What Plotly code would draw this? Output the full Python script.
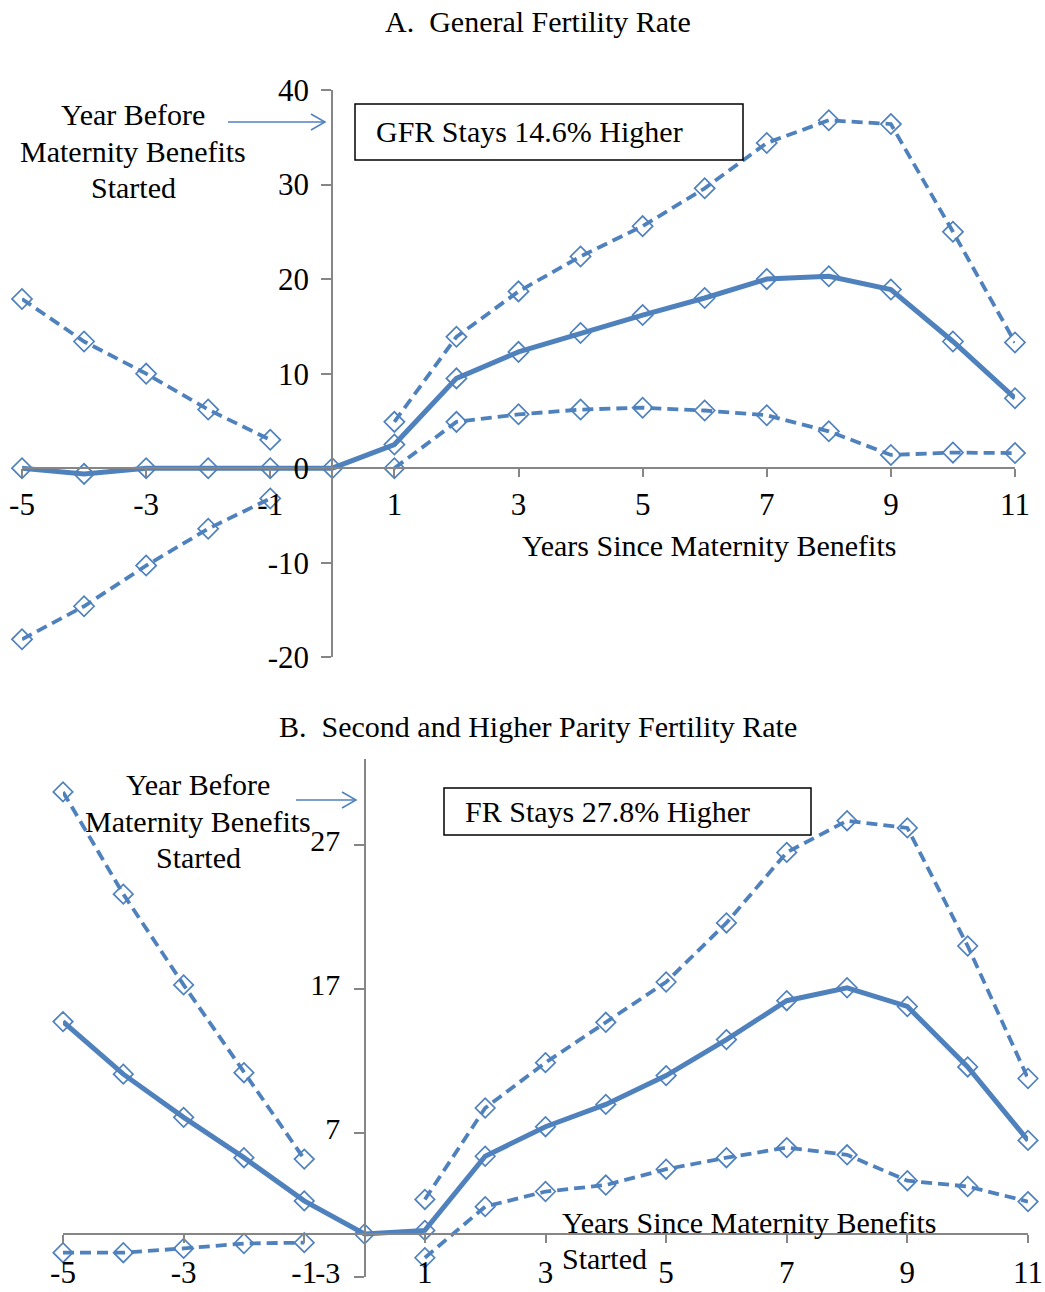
import plotly.graph_objects as go

# Event time: years relative to the start of maternity benefits
years = [-5, -4, -3, -2, -1, 0, 1, 2, 3, 4, 5, 6, 7, 8, 9, 10, 11]

# Panel A: General Fertility Rate (% change), estimate and confidence bounds
gfr_est = [0.0, -0.6, 0.0, 0.0, 0.0, 0.0, 2.5, 9.5, 12.3, 14.3, 16.2, 18.0, 20.0, 20.3, 18.9, 13.4, 7.4]
gfr_upper = [17.9, 13.4, 10.0, 6.2, 3.0, None, 4.9, 13.9, 18.7, 22.4, 25.6, 29.6, 34.4, 36.8, 36.4, 25.0, 13.3]
gfr_lower = [-18.1, -14.6, -10.3, -6.4, -3.2, None, 0.0, 4.9, 5.7, 6.2, 6.4, 6.1, 5.6, 3.9, 1.4, 1.65, 1.6]

# Panel B: Second and higher parity fertility rate (% change)
fr_est = [14.75, 11.1, 8.1, 5.3, 2.3, 0.0, 0.25, 5.4, 7.45, 9.0, 11.0, 13.5, 16.2, 17.1, 15.8, 11.6, 6.5]
fr_upper = [30.7, 23.6, 17.3, 11.2, 5.2, None, 2.4, 8.75, 11.9, 14.7, 17.5, 21.6, 26.5, 28.7, 28.2, 20.0, 10.8]
fr_lower = [-1.3, -1.3, -1.0, -0.66, -0.6, None, -1.65, 1.9, 2.95, 3.4, 4.5, 5.3, 6.0, 5.5, 3.7, 3.3, 2.25]

x_ticks = [-5, -3, -1, 1, 3, 5, 7, 9, 11]
gfr_yticks = [-20, -10, 0, 10, 20, 30, 40]
fr_yticks = [-3, 7, 17, 27]

W, H = 1045, 1292
BLUE = "#4F81BD"
GREY = "#868686"
FONT = "Liberation Serif"


def px_x(p):
    return p / W


def px_y(p):
    return 1 - p / H


fig = go.Figure()


def add_series(xref, yref, est, upper, lower, msize):
    marker = dict(symbol="diamond-open", size=msize, color=BLUE, line=dict(width=1.7, color=BLUE))
    for vals in (upper, lower):
        fig.add_trace(go.Scatter(
            x=years, y=vals, xaxis=xref, yaxis=yref, mode="lines+markers",
            line=dict(color=BLUE, width=3.8, dash="11px,6px"), marker=marker,
            connectgaps=False, cliponaxis=False, showlegend=False, hoverinfo="skip"))
    fig.add_trace(go.Scatter(
        x=years, y=est, xaxis=xref, yaxis=yref, mode="lines+markers",
        line=dict(color=BLUE, width=5), marker=marker,
        cliponaxis=False, showlegend=False, hoverinfo="skip"))


add_series("x", "y", gfr_est, gfr_upper, gfr_lower, 15.5)
add_series("x2", "y2", fr_est, fr_upper, fr_lower, 15)

tickfont = dict(family=FONT, size=31, color="black")

# Pixel geometry of the two panels; each value axis crosses its year axis at 0
A_left, A_right = 22, 1015
A_top, A_bot = 90, 657.3
A_zero_y = 468.3
A_zero_x = 332

B_left, B_right = 63, 1028
B_zero_y = 1234
B_top, B_bot = B_zero_y - 33 * 14.4, B_zero_y + 3 * 14.4
B_zero_x = 365

common = dict(showline=True, linecolor=GREY, linewidth=1.5,
              ticks="outside", tickcolor=GREY, tickwidth=1.5,
              showgrid=False, zeroline=False,
              automargin=False, anchor="free", ticklabeloverflow="allow")

fig.update_layout(
    width=W, height=H,
    margin=dict(l=0, r=0, t=0, b=0, autoexpand=False),
    paper_bgcolor="white", plot_bgcolor="rgba(0,0,0,0)",
    font=dict(family=FONT, color="black"),
    showlegend=False,
    xaxis=dict(domain=[px_x(A_left), px_x(A_right)], range=[-5, 11],
               position=px_y(A_zero_y), ticklen=8, tickfont=tickfont,
               tickvals=x_ticks, ticktext=[str(v) for v in x_ticks],
               ticklabelstandoff=1, **common),
    yaxis=dict(domain=[px_y(A_bot), px_y(A_top)], range=[-20, 40],
               position=px_x(A_zero_x), ticklen=10, tickfont=tickfont,
               tickvals=gfr_yticks, ticktext=[str(v) for v in gfr_yticks],
               ticklabelstandoff=6, **common),
    xaxis2=dict(domain=[px_x(B_left), px_x(B_right)], range=[-5, 11],
                position=px_y(B_zero_y), ticklen=8, tickfont=tickfont,
                tickvals=x_ticks, ticktext=[str(v) for v in x_ticks],
                ticklabelstandoff=3, **common),
    yaxis2=dict(domain=[px_y(B_bot), px_y(B_top)], range=[-3, 33],
                position=px_x(B_zero_x), ticklen=10,
                tickfont=dict(family=FONT, size=30, color="black"),
                tickvals=fr_yticks, ticktext=[str(v) for v in fr_yticks],
                ticklabelstandoff=8, ticklabelshift=-5, **common),
)

txt = dict(family=FONT, size=30, color="black")


def note(text, x, y, xanchor="center", yanchor="middle"):
    fig.add_annotation(text=text, x=px_x(x), y=px_y(y), xref="paper", yref="paper",
                       xanchor=xanchor, yanchor=yanchor,
                       showarrow=False, font=txt)


# Panel titles
note("A.  General Fertility Rate", 538, 22)
note("B.  Second and Higher Parity Fertility Rate", 538, 727)

# Axis titles
note("Years Since Maternity Benefits", 709, 545)
note("Years Since Maternity Benefits", 560, 1222, xanchor="left")
note("Started", 560, 1258, xanchor="left")

# Pre-period labels with arrows pointing to the value axis
for (cx, ys) in [(133, (114, 151, 187)), (198, (784, 821, 857))]:
    for line_text, yy in zip(("Year Before", "Maternity Benefits", "Started"), ys):
        note(line_text, cx, yy)

for (x0, x1, yy) in [(228, 325, 122), (296, 356, 800)]:
    fig.add_shape(type="line", xref="paper", yref="paper",
                  x0=px_x(x0), x1=px_x(x1), y0=px_y(yy), y1=px_y(yy),
                  line=dict(color=BLUE, width=1.5))
    fig.add_shape(type="path", xref="paper", yref="paper",
                  path=f"M {px_x(x1-14)} {px_y(yy-8)} L {px_x(x1)} {px_y(yy)} L {px_x(x1-14)} {px_y(yy+8)}",
                  line=dict(color=BLUE, width=1.5))

# Boxed summary notes
for (x0, y0, x1, y1, label) in [(355, 104, 743, 160, "GFR Stays 14.6% Higher"),
                                (444, 788, 811, 835, "FR Stays 27.8% Higher")]:
    fig.add_shape(type="rect", xref="paper", yref="paper",
                  x0=px_x(x0), x1=px_x(x1), y0=px_y(y1), y1=px_y(y0),
                  line=dict(color="black", width=1.5), fillcolor="rgba(0,0,0,0)")
    note(label, x0 + 19, (y0 + y1) / 2, xanchor="left")

fig.write_html("out.html")
